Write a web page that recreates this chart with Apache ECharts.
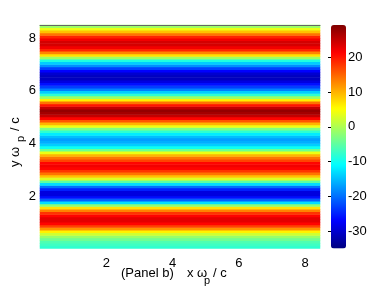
<!DOCTYPE html>
<html>
<head>
<meta charset="utf-8">
<script src="https://cdn.jsdelivr.net/npm/echarts@6/dist/echarts.min.js"></script>
<style>
  html, body { margin: 0; padding: 0; background: #fff; }
  #chart { width: 382px; height: 289px; }
</style>
</head>
<body>
<div id="chart"></div>
<script>
// field value per row, bottom (y=0.05) to top (y=8.45), step 0.1
var profile = [
  -8, -7, -6, -4, -1.5, 2, 6, 12, 17, 21,
  23, 23, 21, 18, 13, 7, -2, -13, -21, -26,
  -29, -29, -25, -20, -13, -5, 3, 9, 14, 18,
  21, 22, 21, 17, 14, 10, 4, -4, -10, -14,
  -16, -17, -15, -12, -8, -3, 4, 10, 16, 21,
  25, 27, 28, 25, 20, 14, 6, -1, -8, -14,
  -19, -23, -26, -29, -31, -31, -30, -27, -23, -18,
  -14, -9, -1, 7, 13, 19, 22, 24, 24, 22,
  19, 14, 9, 4, -1
];
var xCats = ['x'];
var xTicks = [2, 4, 6, 8];
var yTicks = [2, 4, 6, 8];
var cbTicks = [-30, -20, -10, 0, 10, 20];
var cMin = -35, cMax = 29.3;
var jet = ['#00007f', '#0000ff', '#0080ff', '#00ffff', '#80ff80', '#ffff00', '#ff8000', '#ff0000', '#800000'];

var yCats = profile.map(function (v, i) { return i; });
var cells = profile.map(function (v, i) { return [0, i, v]; });

var font = 'Liberation Sans, Arial, Helvetica, sans-serif';
var lbl = { color: '#000', fontFamily: font, fontSize: 13 };

var chart = echarts.init(document.getElementById('chart'));
chart.setOption({
  animation: false,
  grid: [
    { left: 40, top: 25, width: 280, height: 223.6 },
    { left: 331, top: 25, width: 15, height: 223.6 }
  ],
  xAxis: [
    { type: 'category', gridIndex: 0, data: xCats, show: false },
    { type: 'value', gridIndex: 0, min: 0, max: 8.45, position: 'bottom',
      axisLine: { show: false }, axisTick: { show: false }, splitLine: { show: false },
      axisLabel: Object.assign({ margin: 8, customValues: xTicks }, lbl) },
    { type: 'value', gridIndex: 0, min: 0, max: 8.45, position: 'top', z: 5,
      axisLine: { show: true, lineStyle: { color: '#666', width: 1 } },
      axisTick: { show: false }, axisLabel: { show: false }, splitLine: { show: false } },
    { type: 'value', gridIndex: 1, show: false }
  ],
  yAxis: [
    { type: 'category', gridIndex: 0, data: yCats, show: false },
    { type: 'value', gridIndex: 0, min: 0, max: 8.5, position: 'left',
      axisLine: { show: false }, axisTick: { show: false }, splitLine: { show: false },
      axisLabel: Object.assign({ margin: 4, customValues: yTicks }, lbl) },
    { type: 'value', gridIndex: 1, min: cMin, max: cMax, position: 'right', z: 10,
      axisLine: { show: false }, splitLine: { show: false },
      axisTick: { show: true, inside: true, length: 3, customValues: cbTicks, lineStyle: { color: '#000' } },
      axisLabel: Object.assign({ margin: 2, customValues: cbTicks }, lbl) }
  ],
  visualMap: {
    type: 'continuous',
    min: cMin, max: cMax,
    seriesIndex: 0,
    dimension: 2,
    left: 331, top: 25,
    padding: 0,
    itemWidth: 15, itemHeight: 223.6,
    calculable: false,
    hoverLink: false,
    text: null,
    inRange: { color: jet }
  },
  series: [{
    type: 'heatmap',
    xAxisIndex: 0, yAxisIndex: 0,
    data: cells,
    progressive: 0,
    itemStyle: { borderWidth: 0 },
    emphasis: { disabled: true }
  }],
  graphic: [
    { type: 'group', x: 15, y: 141, rotation: Math.PI / 2, children: [
      { type: 'text', x: -26, y: 0, style: { text: 'y ω', font: '13px ' + font, fill: '#000', verticalAlign: 'middle' } },
      { type: 'text', x: -1, y: 6, style: { text: 'p', font: '11px ' + font, fill: '#000', verticalAlign: 'middle' } },
      { type: 'text', x: 10, y: 0, style: { text: '/ c', font: '13px ' + font, fill: '#000', verticalAlign: 'middle' } }
    ] },
    { type: 'text', x: 121, y: 273, style: { text: '(Panel b)', font: '13px ' + font, fill: '#000', verticalAlign: 'middle' } },
    { type: 'text', x: 187, y: 273, style: { text: 'x ω', font: '13px ' + font, fill: '#000', verticalAlign: 'middle' } },
    { type: 'text', x: 204, y: 281, style: { text: 'p', font: '11px ' + font, fill: '#000', verticalAlign: 'middle' } },
    { type: 'text', x: 213, y: 273, style: { text: '/ c', font: '13px ' + font, fill: '#000', verticalAlign: 'middle' } }
  ]
});
</script>
</body>
</html>
